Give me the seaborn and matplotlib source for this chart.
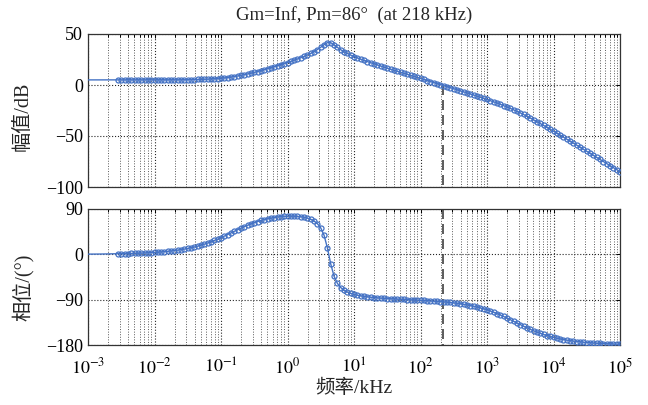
import numpy as np
import pandas as pd
import matplotlib
matplotlib.use("Agg")
import matplotlib.pyplot as plt
import matplotlib.ticker as mticker
import seaborn as sns

# frequency exponents (log10 of kHz)
freq_exp = [
    -3.0, -2.95, -2.9, -2.85, -2.8, -2.75, -2.7, -2.65, -2.6, -2.55, -2.5, -2.45,
    -2.4, -2.35, -2.3, -2.25, -2.2, -2.15, -2.1, -2.05, -2.0, -1.95, -1.9, -1.85,
    -1.8, -1.75, -1.7, -1.65, -1.6, -1.55, -1.5, -1.45, -1.4, -1.35, -1.3, -1.25,
    -1.2, -1.15, -1.1, -1.05, -1.0, -0.95, -0.9, -0.85, -0.8, -0.75, -0.7, -0.65,
    -0.6, -0.55, -0.5, -0.45, -0.4, -0.35, -0.3, -0.25, -0.2, -0.15, -0.1, -0.05,
    0.0, 0.05, 0.1, 0.15, 0.2, 0.25, 0.3, 0.35, 0.4, 0.45, 0.5, 0.55,
    0.6, 0.65, 0.7, 0.75, 0.8, 0.85, 0.9, 0.95, 1.0, 1.05, 1.1, 1.15,
    1.2, 1.25, 1.3, 1.35, 1.4, 1.45, 1.5, 1.55, 1.6, 1.65, 1.7, 1.75,
    1.8, 1.85, 1.9, 1.95, 2.0, 2.05, 2.1, 2.15, 2.2, 2.25, 2.3, 2.35,
    2.4, 2.45, 2.5, 2.55, 2.6, 2.65, 2.7, 2.75, 2.8, 2.85, 2.9, 2.95,
    3.0, 3.05, 3.1, 3.15, 3.2, 3.25, 3.3, 3.35, 3.4, 3.45, 3.5, 3.55,
    3.6, 3.65, 3.7, 3.75, 3.8, 3.85, 3.9, 3.95, 4.0, 4.05, 4.1, 4.15,
    4.2, 4.25, 4.3, 4.35, 4.4, 4.45, 4.5, 4.55, 4.6, 4.65, 4.7, 4.75,
    4.8, 4.85, 4.9, 4.95, 5.0,
]

# magnitude in dB
mag_db = [
    5.0, 5.0, 5.0, 5.0, 5.0, 5.0, 5.0, 5.0, 5.0, 5.0, 5.0, 5.0,
    5.0, 5.0, 5.0, 5.0, 5.0, 5.0, 5.0, 5.0, 5.0, 5.0, 5.0, 5.0,
    5.0, 5.1, 5.1, 5.1, 5.1, 5.2, 5.2, 5.2, 5.3, 5.4, 5.5, 5.6,
    5.7, 5.9, 6.1, 6.3, 6.6, 6.9, 7.3, 7.8, 8.3, 8.8, 9.4, 10.1,
    10.8, 11.6, 12.4, 13.2, 14.1, 15.0, 16.0, 16.9, 17.9, 18.9, 19.9, 21.0,
    22.0, 23.1, 24.3, 25.5, 26.7, 28.0, 29.5, 31.0, 32.8, 34.8, 37.0, 39.6,
    41.6, 41.5, 39.4, 36.9, 34.6, 32.6, 30.9, 29.3, 27.9, 26.6, 25.3, 24.1,
    23.0, 21.9, 20.8, 19.7, 18.6, 17.6, 16.5, 15.5, 14.5, 13.5, 12.5, 11.5,
    10.4, 9.4, 8.4, 7.4, 6.4, 5.4, 4.4, 3.4, 2.4, 1.4, 0.4, -0.6,
    -1.6, -2.6, -3.6, -4.7, -5.7, -6.7, -7.7, -8.8, -9.8, -10.9, -12.0, -13.0,
    -14.1, -15.3, -16.4, -17.6, -18.9, -20.2, -21.5, -22.9, -24.3, -25.8, -27.3, -28.9,
    -30.6, -32.3, -34.1, -35.9, -37.7, -39.6, -41.4, -43.3, -45.3, -47.2, -49.2, -51.1,
    -53.1, -55.1, -57.0, -59.0, -61.0, -63.0, -65.0, -67.0, -69.0, -71.0, -73.0, -75.0,
    -77.0, -79.0, -81.0, -83.0, -85.0,
]

# phase in degrees
phase_deg = [
    0.4, 0.4, 0.5, 0.5, 0.6, 0.7, 0.8, 0.8, 0.9, 1.1, 1.2, 1.3,
    1.5, 1.7, 1.9, 2.1, 2.4, 2.7, 3.0, 3.4, 3.8, 4.2, 4.7, 5.3,
    5.9, 6.7, 7.5, 8.4, 9.4, 10.5, 11.7, 13.1, 14.6, 16.3, 18.2, 20.2,
    22.5, 24.9, 27.5, 30.2, 33.1, 36.2, 39.3, 42.5, 45.7, 48.9, 52.0, 54.9,
    57.8, 60.4, 62.9, 65.1, 67.2, 69.0, 70.6, 71.9, 73.1, 74.1, 74.8, 75.3,
    75.7, 75.8, 75.7, 75.3, 74.6, 73.5, 71.9, 69.5, 66.1, 60.9, 52.4, 37.8,
    12.7, -19.1, -43.4, -57.6, -65.9, -71.3, -74.9, -77.5, -79.5, -81.1, -82.4, -83.5,
    -84.4, -85.1, -85.8, -86.4, -86.9, -87.4, -87.8, -88.2, -88.6, -89.0, -89.3, -89.6,
    -89.9, -90.3, -90.6, -90.9, -91.2, -91.6, -92.0, -92.4, -92.8, -93.3, -93.8, -94.3,
    -95.0, -95.6, -96.4, -97.2, -98.2, -99.2, -100.3, -101.6, -103.0, -104.6, -106.3, -108.2,
    -110.2, -112.5, -114.9, -117.6, -120.4, -123.3, -126.4, -129.6, -132.9, -136.2, -139.5, -142.7,
    -145.8, -148.8, -151.7, -154.3, -156.8, -159.1, -161.2, -163.1, -164.9, -166.5, -167.9, -169.2,
    -170.3, -171.4, -172.3, -173.1, -173.9, -174.5, -175.1, -175.6, -176.1, -176.5, -176.9, -177.2,
    -177.5, -177.8, -178.1, -178.3, -178.5,
]

crossover_khz = 218
title_text = "Gm=Inf, Pm=86°  (at 218 kHz)"
mag_label = "幅值/dB"
phase_label = "相位/(°)"
x_label = "频率/kHz"
mag_ticks = [-100, -50, 0, 50]
phase_ticks = [-180, -90, 0, 90]
x_tick_exps = [-3, -2, -1, 0, 1, 2, 3, 4, 5]

sns.set_style("white")
plt.rcParams["font.family"] = ["Liberation Serif", "Noto Sans CJK SC", "DejaVu Sans"]
plt.rcParams["mathtext.fontset"] = "stix"
plt.rcParams["axes.unicode_minus"] = True

df = pd.DataFrame({"f": [10 ** v for v in freq_exp], "mag": mag_db, "phase": phase_deg})

blue = "#4472C4"
fig = plt.figure(figsize=(6.48, 4.05), dpi=100)
ax1 = fig.add_axes([88 / 648, 1 - 187 / 405, 532 / 648, 153 / 405])
ax2 = fig.add_axes([88 / 648, 1 - 345 / 405, 532 / 648, 136 / 405])

first_marker = 9
for ax, col, ticks in [(ax1, "mag", mag_ticks), (ax2, "phase", phase_ticks)]:
    ax.set_xscale("log")
    sns.lineplot(data=df, x="f", y=col, ax=ax, color=blue, lw=1.0,
                 marker="o", markersize=3.6, markerfacecolor="none",
                 markeredgecolor=blue, markeredgewidth=0.9,
                 markevery=list(range(first_marker, len(df))), zorder=3)
    ax.set_xlim(1e-3, 1e5)
    ax.set_ylim(ticks[0], ticks[-1])
    ax.set_yticks(ticks)
    ax.set_yticklabels([("\u2212" + str(-t)) if t < 0 else str(t) for t in ticks])
    ax.xaxis.set_major_locator(mticker.FixedLocator([10.0 ** k for k in x_tick_exps]))
    ax.xaxis.set_minor_locator(mticker.LogLocator(base=10, subs=np.arange(2, 10), numticks=100))
    ax.grid(True, which="major", axis="both", color="0.15", linestyle=":", linewidth=0.8)
    ax.grid(True, which="minor", axis="x", color="0.35", linestyle=":", linewidth=0.7)
    ax.tick_params(axis="both", which="both", direction="in", top=True, right=True,
                   labelsize=13, colors="black", length=3, width=0.7)
    ax.tick_params(axis="x", which="minor", length=2)
    for sp in ax.spines.values():
        sp.set_color("0.2")
        sp.set_linewidth(0.9)
    ax.set_xlabel("")
    ax.set_ylabel("")

ax1.tick_params(axis="x", labelbottom=False)
ax2.set_xticklabels([f"$10^{{{k}}}$" for k in x_tick_exps])
ax2.tick_params(axis="x", which="major", pad=9)

# crossover marker lines
ax1.plot([crossover_khz, crossover_khz], [0, mag_ticks[0]], color="0.25",
         linestyle=(0, (6, 3)), lw=1.2, zorder=2)
ax2.plot([crossover_khz, crossover_khz], [phase_ticks[-1], phase_ticks[0]], color="0.25",
         linestyle=(0, (6, 3)), lw=1.2, zorder=2)

ax1.set_title(title_text, fontsize=13.5, pad=10)
fig.text(23 / 648, 1 - 116 / 405, mag_label, rotation=90, ha="center", va="center", fontsize=14.5)
fig.text(23 / 648, 1 - 287 / 405, phase_label, rotation=90, ha="center", va="center", fontsize=14.5)
fig.text(354 / 648, 1 - 388 / 405, x_label, ha="center", va="center", fontsize=14)

fig.savefig("out.png", dpi=100)
